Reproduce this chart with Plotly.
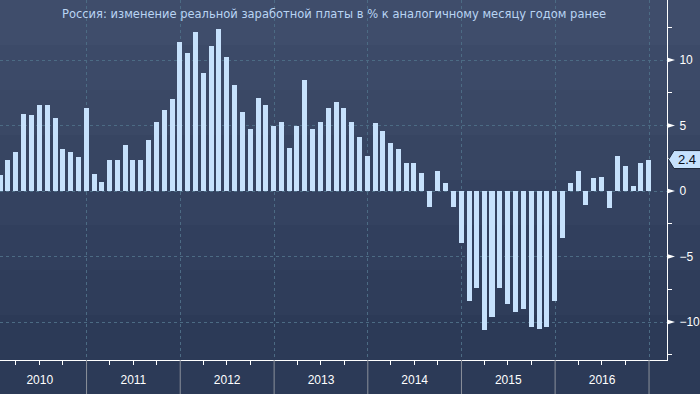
import plotly.graph_objects as go
import pandas as pd

title_text = "Россия: изменение реальной заработной платы в % к аналогичному месяцу годом ранее"

years = [2010, 2011, 2012, 2013, 2014, 2015, 2016]

values = [
    1.2, 2.4, 3.0, 5.9, 5.8, 6.6, 6.6, 5.6, 3.2, 3.0, 2.6, 6.3,          # 2010
    1.3, 0.7, 2.4, 2.4, 3.5, 2.4, 2.4, 3.9, 5.3, 6.2, 7.0, 11.4,         # 2011
    10.5, 12.1, 9.0, 11.1, 12.4, 10.2, 8.1, 6.0, 4.7, 7.1, 6.6, 5.0,     # 2012
    5.3, 3.3, 5.0, 8.5, 4.7, 5.3, 6.3, 6.8, 6.3, 5.3, 4.1, 2.7,          # 2013
    5.2, 4.6, 3.7, 3.2, 2.1, 2.1, 1.4, -1.2, 1.5, 0.6, -1.2, -4.0,       # 2014
    -8.4, -7.4, -10.6, -9.6, -7.4, -8.6, -9.2, -9.0, -10.4, -10.5, -10.4, -8.4,  # 2015
    -3.6, 0.6, 1.5, -1.1, 1.0, 1.1, -1.3, 2.7, 1.9, 0.4, 2.1, 2.4,       # 2016
]

dates = pd.date_range(f"{years[0]}-01-31", periods=len(values), freq="ME")

ytick_vals = [-10, -5, 0, 5, 10]

W, H = 700, 394
ML, MR, MT, MB = 0, 33, 0, 34
PW = W - ML - MR
PH = H - MT - MB
Y_RANGE = [-12.9, 14.58]
X_RANGE = ["2010-01-28 16:00", "2017-03-12"]

grid_col = "#4c6b84"
bar_col = "#c6e1fc"

fig = go.Figure()
fig.add_trace(go.Bar(
    x=dates, y=values,
    width=19.5 * 86400000,
    marker=dict(color=bar_col, line=dict(width=0)),
    hoverinfo="x+y",
))

shapes = []
# stepped background gradient
top = (0x3f, 0x4d, 0x6b)
bot = (0x2c, 0x3a, 0x57)
nb = 8
for i in range(nb):
    t = i / (nb - 1)
    c = tuple(int(round(top[k] + (bot[k] - top[k]) * t)) for k in range(3))
    shapes.append(dict(type="rect", xref="paper", yref="paper",
                       x0=-0.01, x1=W / PW + 0.01,
                       y0=1 - (i + 1) / nb, y1=1 - i / nb,
                       fillcolor="rgb(%d,%d,%d)" % c, line=dict(width=0), layer="below"))

# year separators below the axis
for yr in years:
    shapes.append(dict(type="line", xref="x", yref="paper",
                       x0=f"{yr + 1}-01-01", x1=f"{yr + 1}-01-01",
                       y0=-MB / PH, y1=0, line=dict(color="#8b919b", width=1)))

# triangular markers at major y ticks
tw = 8 / PW
for v in ytick_vals:
    h = 2.6 / (PH / (Y_RANGE[1] - Y_RANGE[0]))
    shapes.append(dict(type="path", xref="paper", yref="y",
                       path=f"M 1,{v + h} L {1 + tw},{v} L 1,{v - h} Z",
                       fillcolor="white", line=dict(width=0)))

# last value tag
last = values[-1]
upp = (Y_RANGE[1] - Y_RANGE[0]) / PH
hh = 9 * upp
x_tip = 1 + 1.5 / PW
x_body = 1 + 7 / PW
x_end = 1 + 40 / PW
shapes.append(dict(type="path", xref="paper", yref="y",
                   path=f"M {x_tip},{last} L {x_body},{last + hh} L {x_end},{last + hh} "
                        f"L {x_end},{last - hh} L {x_body},{last - hh} Z",
                   fillcolor=bar_col, line=dict(color="#1b2538", width=1)))

annotations = [
    dict(text=title_text, xref="paper", yref="paper", x=0.5, y=1 - 14 / PH,
         xanchor="center", yanchor="middle", showarrow=False,
         font=dict(family="DejaVu Sans", size=11.5, color="#b9d4f3")),
    dict(text=f"{last:.1f}", xref="paper", yref="y", x=1 + 20 / PW, y=last,
         xanchor="center", yanchor="middle", showarrow=False,
         font=dict(family="Liberation Sans", size=13, color="#0a0f1a")),
]

fig.update_layout(
    width=W, height=H,
    margin=dict(l=ML, r=MR, t=MT, b=MB, pad=0),
    paper_bgcolor="rgb(44,58,87)",
    plot_bgcolor="rgba(0,0,0,0)",
    showlegend=False,
    bargap=0,
    shapes=shapes,
    annotations=annotations,
)

fig.update_xaxes(
    type="date", range=X_RANGE,
    tick0="2010-01-01", dtick="M12", tickformat="%Y", ticklabelmode="period",
    ticks="outside", ticklen=9, tickcolor="rgba(0,0,0,0)",
    showgrid=True, gridcolor=grid_col, griddash="3px,3px", gridwidth=1,
    showline=True, linecolor="white", linewidth=1,
    tickfont=dict(family="Liberation Sans", size=12, color="white"),
    minor=dict(ticks="outside", ticklen=4, tickcolor="white", dtick="M3",
               tick0="2010-01-01", showgrid=False),
    zeroline=False,
)

fig.update_yaxes(
    side="right", range=Y_RANGE,
    tickmode="array", tickvals=ytick_vals,
    ticks="outside", ticklen=9, tickcolor="rgba(0,0,0,0)",
    showgrid=True, gridcolor=grid_col, griddash="3px,3px", gridwidth=1,
    zeroline=False,
    showline=True, linecolor="white", linewidth=1,
    tickfont=dict(family="Liberation Sans", size=12, color="white"),
    minor=dict(ticks="outside", ticklen=4, tickcolor="white", dtick=2.5, tick0=0,
               showgrid=False),
)

fig.write_html(
    "out.html",
    config={"displayModeBar": False},
    post_script="document.body.style.margin='0';document.body.style.padding='0';"
                "document.documentElement.style.overflow='hidden';",
)
